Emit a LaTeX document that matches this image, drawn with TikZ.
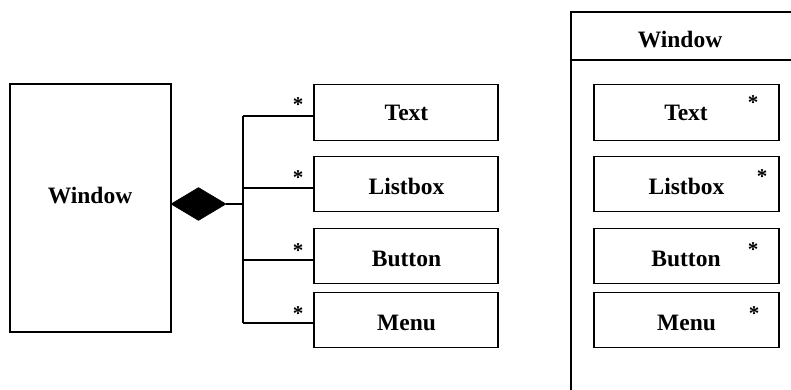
\documentclass[tikz,border=0pt]{standalone}
\usepackage{fontspec}
\setmainfont{Liberation Serif}
\usetikzlibrary{shapes.geometric}
\tikzset{
  line/.style={line width=1.2pt, black},
  box/.style={draw, line width=1.2pt, rectangle, inner sep=0pt},
  part/.style={box, minimum width=184, minimum height=55.5},
  lbl/.style={anchor=base, inner sep=0pt, font=\fontsize{23.5}{28}\selectfont\bfseries},
  mult/.style={anchor=base, inner sep=0pt, font=\fontsize{21}{25}\selectfont\bfseries},
}
\begin{document}
\begin{tikzpicture}[x=1pt, y=-1pt]
\useasboundingbox (0,0) rectangle (791,390);

% --- aggregation diagram ---
\node[box, minimum width=161, minimum height=248] (win) at (90.5,208) {};
\node[lbl] (wintext) at (90,203) {Window};
\node[diamond, fill=black, draw=black, line width=0.6pt, inner sep=0pt,
      minimum width=55, minimum height=33] (dia) at (198.5,204) {};

\node[part] (t1) at (406,112.5) {};
\node[part] (l1) at (406,184) {};
\node[part] (b1) at (406,256) {};
\node[part] (m1) at (406,320) {};
\node[lbl] at (406.5,121) {Text};
\node[lbl] at (406.5,194) {Listbox};
\node[lbl] at (406.5,266) {Button};
\node[lbl] at (406.5,330) {Menu};

\coordinate (j1) at (243,116);
\coordinate (j2) at (243,188);
\coordinate (j3) at (243,260);
\coordinate (j4) at (243,323);
\draw[line] (dia.east) -- (dia.east -| j1);
\draw[line] (j1) -- (j4);
\draw[line] (j1) -- (j1 -| t1.west);
\draw[line] (j2) -- (j2 -| l1.west);
\draw[line] (j3) -- (j3 -| b1.west);
\draw[line] (j4) -- (j4 -| m1.west);
\node[mult] at (298,112) {*};
\node[mult] at (298,184) {*};
\node[mult] at (298,257) {*};
\node[mult] at (298,320) {*};

% --- nested containment view ---
\coordinate (ftl) at (571,12);
\coordinate (ftr) at (791,12);
\coordinate (fbl) at (571,390);
\coordinate (sepl) at (571,60);
\coordinate (sepr) at (791,60);
\draw[line] (ftr) -- (ftl) -- (fbl);
\draw[line] (sepl) -- (sepr);
\node[lbl] at (680,48) {Window};

\node[part, minimum width=185] (t2) at (686.5,112.5) {};
\node[part, minimum width=185] (l2) at (686.5,184) {};
\node[part, minimum width=185] (b2) at (686.5,256) {};
\node[part, minimum width=185] (m2) at (686.5,320) {};
\node[lbl] at (686,121) {Text};
\node[lbl] at (686.5,194) {Listbox};
\node[lbl] at (686,266) {Button};
\node[lbl] at (686.5,330) {Menu};
\node[mult] at (753,110) {*};
\node[mult] at (762,183) {*};
\node[mult] at (753,256) {*};
\node[mult] at (754,320) {*};
\end{tikzpicture}
\end{document}
